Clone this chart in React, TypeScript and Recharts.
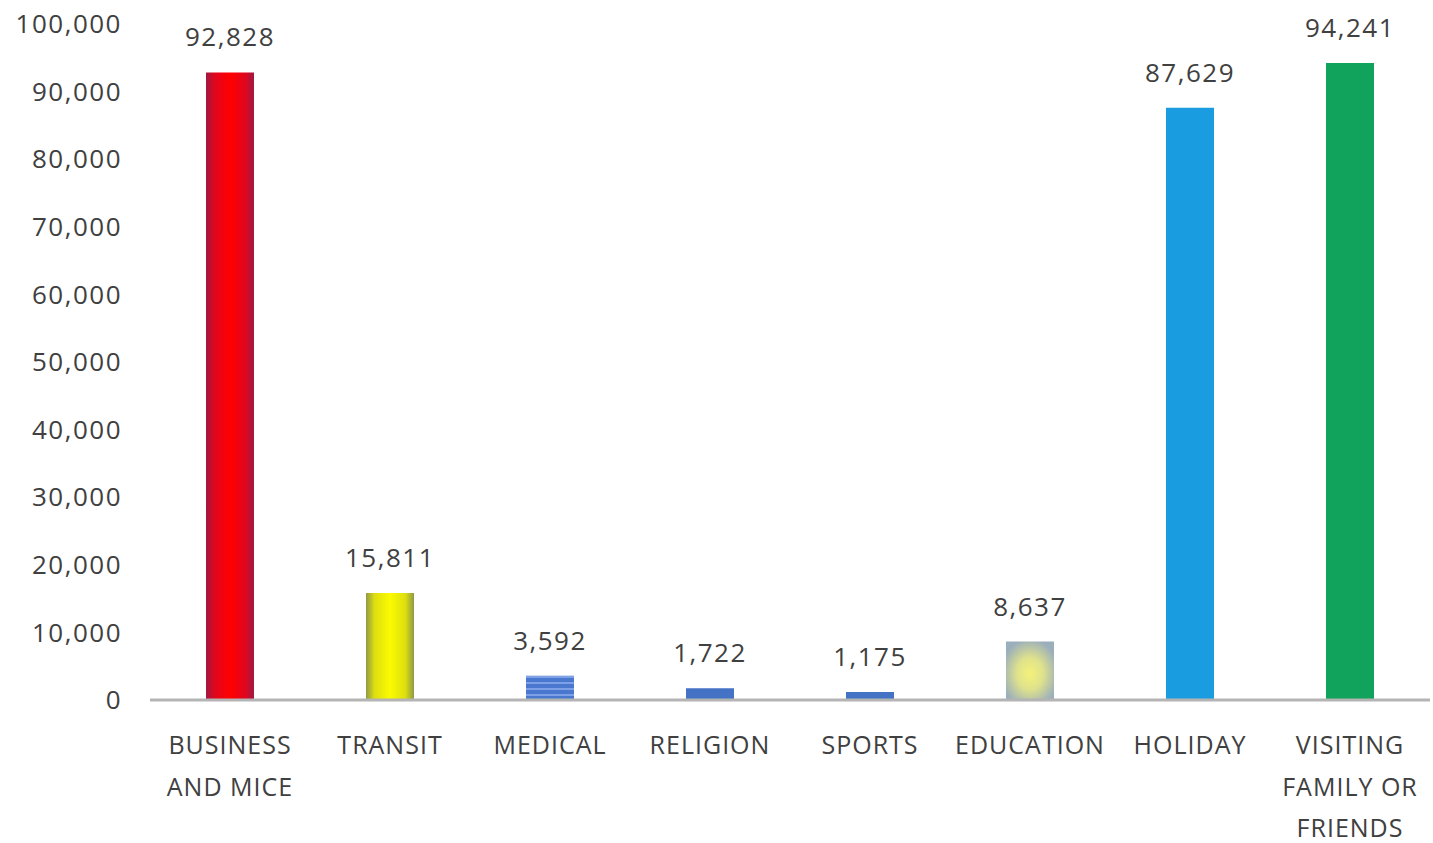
import type { ReactElement } from 'react';
import { Bar, BarChart, Cell, LabelList, XAxis, YAxis } from 'recharts';

const categories = [
  'BUSINESS\nAND MICE',
  'TRANSIT',
  'MEDICAL',
  'RELIGION',
  'SPORTS',
  'EDUCATION',
  'HOLIDAY',
  'VISITING\nFAMILY OR\nFRIENDS',
];
const visitors = [92828, 15811, 3592, 1722, 1175, 8637, 87629, 94241];
const barFills = [
  'url(#gradRed)',
  'url(#gradYellow)',
  'url(#stripeBlue)',
  '#4472c4',
  '#4472c4',
  'url(#gradEdu)',
  '#1a9de0',
  '#11a35b',
];
const yTicks = [0, 10000, 20000, 30000, 40000, 50000, 60000, 70000, 80000, 90000, 100000];

const data = categories.map((name, i) => ({ name, value: visitors[i] }));

const TEXT = '#404040';
const FONT = '"Open Sans", sans-serif';

function CategoryTick(props: any): ReactElement {
  const { x, y, payload } = props;
  const lines = String(payload.value).split('\n');
  return (
    <g transform={`translate(${x},${y})`}>
      {lines.map((line, i) => (
        <text
          key={i}
          x={0}
          y={46 + i * 41.5}
          textAnchor="middle"
          fill={TEXT}
          fontSize={25}
          letterSpacing={1}
          fontFamily={FONT}
        >
          {line}
        </text>
      ))}
    </g>
  );
}

export default function App(): ReactElement {
  return (
    <div style={{ width: 1433, height: 843, background: '#fff' }}>
      <style>{'body{margin:0}'}</style>
      <BarChart
        width={1433}
        height={843}
        data={data}
        margin={{ top: 24, right: 3, bottom: 0, left: 0 }}
        barSize={48}
      >
        <defs>
          <linearGradient id="gradRed" x1="0" y1="0" x2="1" y2="0">
            <stop offset="0%" stopColor="#9e1a40" />
            <stop offset="18%" stopColor="#e0061e" />
            <stop offset="50%" stopColor="#ff0000" />
            <stop offset="82%" stopColor="#e0061e" />
            <stop offset="100%" stopColor="#9e1a40" />
          </linearGradient>
          <linearGradient id="gradYellow" x1="0" y1="0" x2="1" y2="0">
            <stop offset="0%" stopColor="#8e9a45" />
            <stop offset="18%" stopColor="#dede10" />
            <stop offset="50%" stopColor="#fbfb00" />
            <stop offset="82%" stopColor="#dede10" />
            <stop offset="100%" stopColor="#8e9a45" />
          </linearGradient>
          <pattern id="stripeBlue" width="8" height="6" patternUnits="userSpaceOnUse">
            <rect width="8" height="6" fill="#4a78cf" />
            <rect y="4" width="8" height="2" fill="#7ea0e6" />
          </pattern>
          <radialGradient id="gradEdu" cx="0.5" cy="0.55" r="0.6">
            <stop offset="0%" stopColor="#f4f27a" />
            <stop offset="45%" stopColor="#dfe28c" />
            <stop offset="100%" stopColor="#9aaebb" />
          </radialGradient>
        </defs>
        <XAxis
          dataKey="name"
          interval={0}
          height={143}
          axisLine={{ stroke: '#b4b4b4', strokeWidth: 3 }}
          tickLine={false}
          tick={<CategoryTick />}
        />
        <YAxis
          width={150}
          domain={[0, 100000]}
          ticks={yTicks}
          interval={0}
          axisLine={false}
          tickLine={false}
          tickSize={0}
          tickMargin={28}
          tickFormatter={(v: number) => v.toLocaleString('en-US')}
          tick={{ fill: TEXT, fontSize: 26, fontFamily: FONT, letterSpacing: 1.5 }}
        />
        <Bar dataKey="value" isAnimationActive={false}>
          {data.map((d, i) => (
            <Cell key={d.name} fill={barFills[i]} />
          ))}
          <LabelList
            dataKey="value"
            position="top"
            offset={26}
            formatter={(v: any) => Number(v).toLocaleString('en-US')}
            style={{ fill: TEXT, fontSize: 26, fontFamily: FONT, letterSpacing: 1.5 }}
          />
        </Bar>
      </BarChart>
    </div>
  );
}
